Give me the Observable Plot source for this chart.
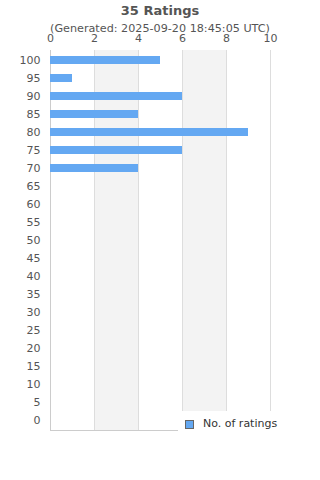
<!DOCTYPE html>
<html><head><meta charset="utf-8">
<script src="https://cdn.jsdelivr.net/npm/d3@7"></script>
<script src="https://cdn.jsdelivr.net/npm/@observablehq/plot@0.6"></script>
<style>
body{margin:0;background:#fff;font-family:"DejaVu Sans",sans-serif;}
#wrap{position:relative;width:320px;height:480px;}
#title{position:absolute;left:0;width:320px;top:3px;text-align:center;font-weight:bold;font-size:13px;color:#555;}
#sub{position:absolute;left:0;width:320px;top:22px;text-align:center;font-size:11.2px;color:#555;}
#legend{position:absolute;left:178px;top:411px;width:142px;height:26px;background:#fff;font-size:11px;color:#333;}
#legend .sw{position:absolute;left:7px;top:9px;width:7px;height:7px;background:#64a8f2;border:1px solid #666;}
#legend .lb{position:absolute;left:25px;top:6px;}
#chart{position:absolute;left:0;top:0;}
</style></head>
<body><div id="wrap"><div id="chart"></div>
<div id="title">35 Ratings</div>
<div id="sub">(Generated: 2025-09-20 18:45:05 UTC)</div>
<div id="legend"><div class="sw"></div><div class="lb">No. of ratings</div></div>
</div>
<script>
const ratings = ["100","95","90","85","80","75","70","65","60","55","50","45","40","35","30","25","20","15","10","5","0"];
const counts = [5,1,6,4,9,6,4,0,0,0,0,0,0,0,0,0,0,0,0,0,0];
const xTicks = [0,2,4,6,8,10];
const shadedBands = [[2,4],[6,8]];
const seriesName = "No. of ratings";

const data = ratings.map((r,i)=>({rating:r,count:counts[i]}));
const bands = shadedBands.map(([a,b])=>({x1:a,x2:b}));

const chart = Plot.plot({
  width:320, height:480,
  marginTop:50, marginLeft:50, marginRight:50, marginBottom:50,
  style:{fontFamily:"DejaVu Sans, sans-serif", fontSize:"11px", color:"#555", background:"transparent"},
  x:{domain:[0,10], axis:"top", ticks:xTicks, tickSize:0, tickPadding:9, label:null},
  y:{domain:ratings, padding:0, tickSize:0, tickPadding:10, label:null},
  marks:[
    Plot.rectX(bands,{x1:"x1",x2:"x2",fill:"#f3f3f3"}),
    Plot.ruleX(xTicks.slice(1),{stroke:"#dddddd"}),
    Plot.ruleX([0],{stroke:"#cccccc"}),
    Plot.frame({anchor:"bottom", stroke:"#cccccc"}),
    Plot.barX(data,{x:"count", y:"rating", fill:"#64a8f2", insetTop:5, insetBottom:5})
  ]
});
document.getElementById("chart").appendChild(chart);
</script>
</body></html>
